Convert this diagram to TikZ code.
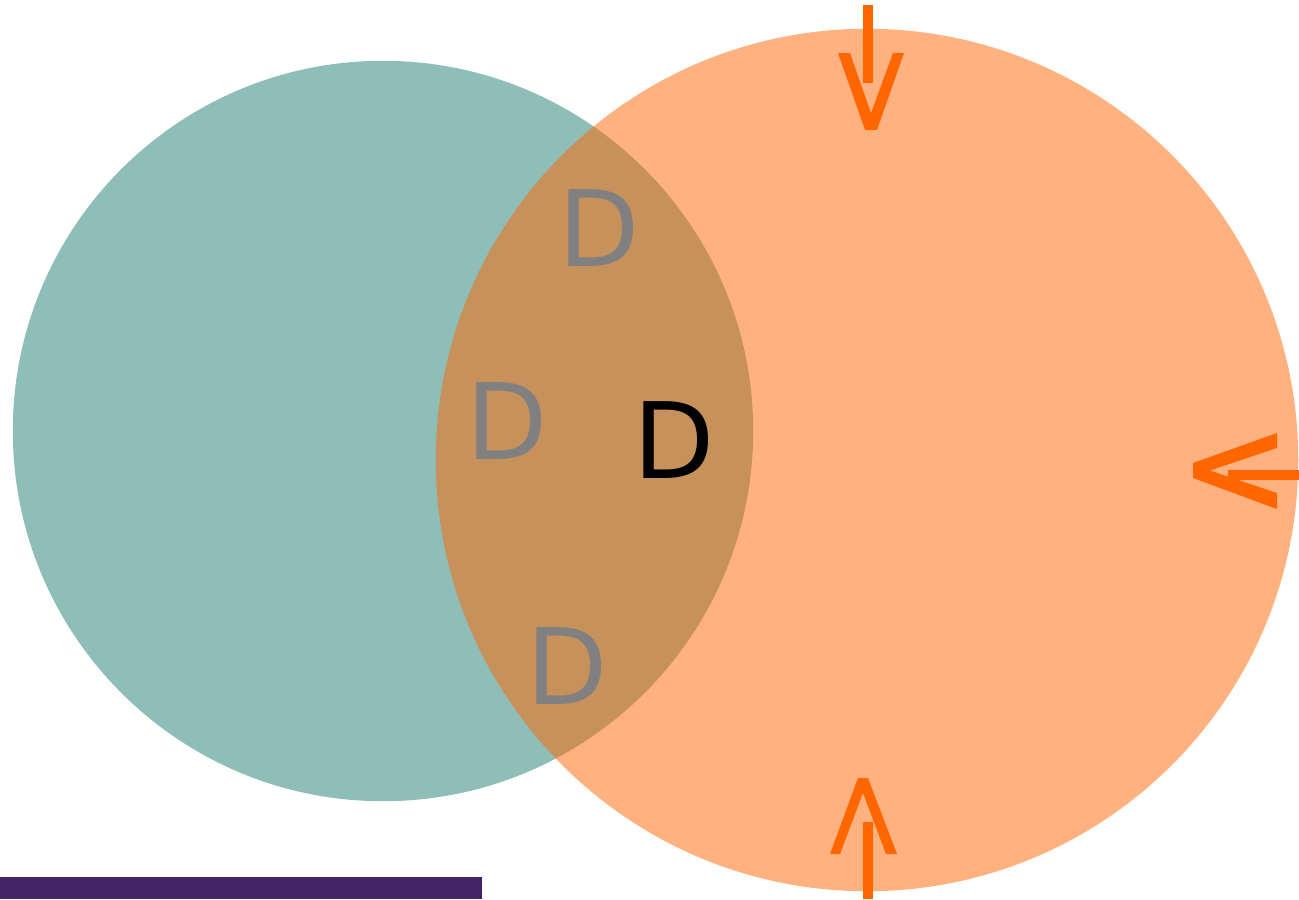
\documentclass[tikz,border=0pt]{standalone}
\usepackage{fontspec}
\setmainfont{DejaVu Sans}
\usetikzlibrary{positioning}

\definecolor{tealbase}{RGB}{31,125,115}
\definecolor{orangebase}{RGB}{255,102,0}
\definecolor{barpurple}{RGB}{68,35,102}

\begin{document}
\begin{tikzpicture}[
    x=0.01cm, y=-0.01cm,
    blob/.style={
        circle,
        draw=none,
        inner sep=0pt,
        fill opacity=0.5
    },
    letter/.style={
        inner sep=0pt,
        font=\fontsize{30pt}{30pt}\selectfont
    },
    faded/.style={letter, text=gray},
    pointer/.style={fill=orangebase, draw=none},
    shaft/.style={line width=0.1cm, draw=orangebase}
]

\useasboundingbox (0, 0) rectangle (1299, 899);

% === Circles ===
\node[blob, fill=tealbase, minimum size=7.40cm] (left) at (383, 431) {};
\node[blob, fill=orangebase, minimum size=8.62cm] (right) at (867, 460) {};

% Labels in the overlap
\node[faded] (upper) at (599, 228) {D};
\node[faded] (middle) at (507, 421) {D};
\node[faded] (lower) at (567, 666) {D};
\node[letter] (centre) at (674, 440) {D};

% === Orange markers ===
% top
\draw[shaft] (868, 5) -- (868, 83);
\fill[pointer] (838, 53) -- (850, 53) -- (871, 113) -- (893, 53) -- (904, 53)
    -- (877, 130) -- (865, 130) -- cycle;
% bottom
\draw[shaft] (868, 822) -- (868, 899);
\fill[pointer] (858, 778) -- (868, 778) -- (897, 854) -- (886, 854) -- (863, 793)
    -- (840, 854) -- (830, 854) -- cycle;
% right
\draw[shaft] (1228, 474.5) -- (1299, 474.5);
\fill[pointer] (1193, 463) -- (1277, 433) -- (1277, 448) -- (1210, 470.5)
    -- (1277, 493) -- (1277, 509) -- (1193, 478) -- cycle;

% Bar
\fill[barpurple] (0, 877) rectangle (482, 899);

\end{tikzpicture}
\end{document}
